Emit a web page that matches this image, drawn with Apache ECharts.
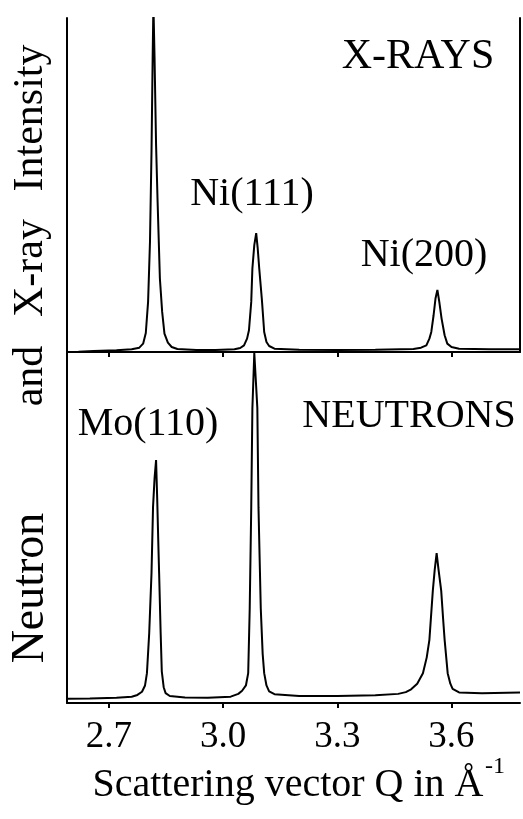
<!DOCTYPE html>
<html>
<head>
<meta charset="utf-8">
<script src="https://cdn.jsdelivr.net/npm/echarts@6/dist/echarts.min.js"></script>
<style>
html,body{margin:0;padding:0;background:#fff;}
#chart{width:523px;height:819px;}
</style>
</head>
<body>
<div id="chart"></div>
<script>
// Q axis range and ticks (Å^-1)
var qMin = 2.59, qMax = 3.78;
var tickValues = [2.7, 3.0, 3.3, 3.6];
var tickLabels = ['2.7', '3.0', '3.3', '3.6'];

// X-ray intensity [Q, intensity] (arbitrary units, top panel)
var xrayData = [
  [2.59,0.0],[2.62,0.1],[2.66,0.3],[2.72,0.5],[2.76,0.8],
  [2.78,1.3],[2.790,2.5],[2.797,5.7],[2.803,15],[2.808,33],[2.812,60],[2.815,88],[2.817,104],
  [2.820,88],[2.824,62],[2.828,45],[2.834,22],[2.840,12],[2.846,5.5],[2.855,2.8],[2.865,1.5],[2.88,0.9],
  [2.93,0.6],[2.98,0.6],[3.03,0.8],
  [3.045,1.2],[3.055,2.0],[3.063,4],[3.068,6.5],[3.074,15],[3.077,25],[3.082,32],[3.087,35.6],
  [3.091,31],[3.095,25],[3.102,15.6],[3.108,6],[3.114,3],[3.121,1.8],[3.135,1.0],
  [3.2,0.7],[3.3,0.6],[3.4,0.7],[3.5,0.9],
  [3.52,1.3],[3.534,2.0],[3.542,4],[3.547,6],[3.553,11],[3.558,16],[3.563,18.6],
  [3.568,15],[3.574,10],[3.582,5],[3.589,2.5],[3.60,1.5],[3.62,1.0],[3.7,0.8],[3.78,0.8]
];

// Neutron intensity [Q, intensity] (arbitrary units, bottom panel)
var neutronData = [
  [2.59,1.2],[2.65,1.3],[2.72,1.5],[2.76,1.8],
  [2.775,2.3],[2.787,3.2],[2.795,5],[2.800,8.5],[2.806,20],[2.812,37],[2.816,55.8],[2.820,64],[2.824,69.2],
  [2.827,58],[2.830,45],[2.832,37],[2.836,20],[2.839,9],[2.844,4.5],[2.849,2.8],[2.86,2.0],
  [2.9,1.6],[2.96,1.5],[3.02,1.8],
  [3.04,2.6],[3.05,3.5],[3.060,5],[3.066,8.5],[3.070,27],[3.074,55.8],[3.077,84],[3.082,99.7],
  [3.087,90],[3.090,84],[3.093,55.8],[3.099,27],[3.104,14],[3.108,8.5],[3.114,5],[3.121,3.3],[3.135,2.5],
  [3.2,2.0],[3.3,2.0],[3.4,2.2],[3.46,2.6],
  [3.48,3.1],[3.494,3.9],[3.510,5.5],[3.525,8.5],[3.535,13],[3.542,18],[3.551,32],[3.556,38],[3.561,42.7],
  [3.566,38],[3.573,32],[3.578,24],[3.582,18],[3.590,8.5],[3.597,5.5],[3.603,4],[3.62,3.0],[3.68,2.8],[3.78,3.0]
];

var FONT = '"Liberation Serif", "Times New Roman", serif';
var chart = echarts.init(document.getElementById('chart'), null, {renderer:'canvas'});

function txt(text, x, y, size, rot) {
  return {
    type: 'text', x: x, y: y, rotation: rot || 0,
    style: { text: text, font: size + 'px ' + FONT, fill: '#000',
             align: 'center', verticalAlign: 'middle' }
  };
}

var lineStyle = { color: '#000', width: 2 };

chart.setOption({
  backgroundColor: '#fff',
  animation: false,
  grid: [
    { left: 67, right: 3, top: 18, height: 334 },
    { left: 67, right: 3, top: 352, height: 351 }
  ],
  xAxis: [
    { gridIndex: 0, type: 'value', min: qMin, max: qMax, position: 'top',
      axisLine: { show: true, lineStyle: lineStyle },
      axisTick: { show: true, inside: true, length: 5, customValues: tickValues, lineStyle: lineStyle },
      axisLabel: { show: false }, splitLine: { show: false } },
    { gridIndex: 1, type: 'value', min: qMin, max: qMax, position: 'bottom',
      axisLine: { show: true, lineStyle: lineStyle },
      axisTick: { show: true, length: 5, customValues: tickValues, lineStyle: lineStyle },
      axisLabel: { show: true, customValues: tickValues, margin: 34, verticalAlign: 'middle',
        fontSize: 37, fontFamily: FONT, color: '#000',
        formatter: function (v) { return tickLabels[tickValues.indexOf(Math.round(v * 10) / 10)] || v.toFixed(1); } },
      splitLine: { show: false } }
  ],
  yAxis: [
    { gridIndex: 0, type: 'value', min: 0, max: 100, position: 'left',
      axisLine: { show: true, lineStyle: lineStyle }, axisTick: { show: false },
      axisLabel: { show: false }, splitLine: { show: false } },
    { gridIndex: 0, type: 'value', min: 0, max: 100, position: 'right',
      axisLine: { show: true, lineStyle: lineStyle }, axisTick: { show: false },
      axisLabel: { show: false }, splitLine: { show: false } },
    { gridIndex: 1, type: 'value', min: 0, max: 100, position: 'left',
      axisLine: { show: true, lineStyle: lineStyle }, axisTick: { show: false },
      axisLabel: { show: false }, splitLine: { show: false } }
  ],
  series: [
    { name: 'X-rays', type: 'line', xAxisIndex: 0, yAxisIndex: 0, data: xrayData,
      showSymbol: false, clip: true, lineStyle: lineStyle },
    { name: 'Neutrons', type: 'line', xAxisIndex: 1, yAxisIndex: 2, data: neutronData,
      showSymbol: false, clip: true, lineStyle: lineStyle }
  ],
  graphic: [
    txt('X-RAYS', 418, 57, 42),
    txt('Ni(111)', 252, 194, 40),
    txt('Ni(200)', 424, 255, 40),
    txt('Mo(110)', 148, 424, 40),
    txt('NEUTRONS', 409, 416, 40),
    txt('Intensity', 31, 118, 42, Math.PI / 2),
    txt('X-ray', 31, 268, 42, Math.PI / 2),
    txt('and', 31, 376, 42, Math.PI / 2),
    txt('Neutron', 31, 588, 46, Math.PI / 2),
    txt('Scattering vector Q in \u00C5', 288, 785, 40),
    txt('-1', 495, 767, 24)
  ]
});
</script>
</body>
</html>
